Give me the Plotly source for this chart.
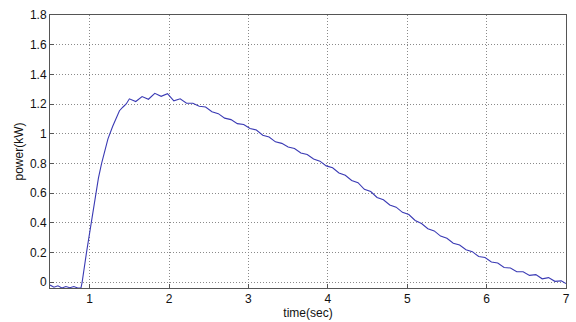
import plotly.graph_objects as go

time_sec = [0.50, 0.55, 0.60, 0.65, 0.70, 0.75, 0.80, 0.85, 0.89, 0.905, 0.96, 1.02, 1.075, 1.11, 1.15,
            1.19, 1.23, 1.29, 1.34, 1.375, 1.42, 1.46,
            1.50, 1.58, 1.66, 1.74, 1.82, 1.90, 1.98, 2.06, 2.14, 2.22, 2.30, 2.38, 2.46, 2.54,
            2.62, 2.70, 2.78, 2.86, 2.94, 3.02, 3.10, 3.18, 3.26, 3.34, 3.42, 3.50, 3.58, 3.66,
            3.74, 3.82, 3.90, 3.98, 4.06, 4.14, 4.22, 4.30, 4.38, 4.46, 4.54, 4.62, 4.70, 4.78,
            4.86, 4.94, 5.02, 5.10, 5.18, 5.26, 5.34, 5.42, 5.50, 5.58, 5.66, 5.74, 5.82, 5.90,
            5.98, 6.06, 6.14, 6.22, 6.30, 6.38, 6.46, 6.54, 6.62, 6.70, 6.78, 6.86, 6.94, 7.00]
power_kw = [-0.020, -0.035, -0.025, -0.040, -0.030, -0.038, -0.030, -0.040, -0.040, 0.000, 0.200, 0.400, 0.600, 0.700, 0.800,
            0.876, 0.965, 1.050, 1.120, 1.155, 1.180, 1.200,
            1.235, 1.217, 1.250, 1.232, 1.272, 1.252, 1.270, 1.222, 1.235, 1.205, 1.205, 1.185, 1.180, 1.148,
            1.135, 1.105, 1.095, 1.068, 1.062, 1.035, 1.025, 0.990, 0.978, 0.945, 0.935, 0.910, 0.900, 0.870,
            0.860, 0.830, 0.815, 0.783, 0.770, 0.735, 0.720, 0.685, 0.670, 0.625, 0.610, 0.570, 0.555, 0.520,
            0.505, 0.470, 0.455, 0.415, 0.395, 0.360, 0.345, 0.310, 0.295, 0.262, 0.250, 0.218, 0.205, 0.172,
            0.165, 0.135, 0.128, 0.098, 0.095, 0.070, 0.070, 0.045, 0.050, 0.022, 0.030, 0.005, 0.008, -0.010]

x_ticks = [1, 2, 3, 4, 5, 6, 7]
y_ticks = [0, 0.2, 0.4, 0.6, 0.8, 1, 1.2, 1.4, 1.6, 1.8]
y_tick_labels = ["0", "0.2", "0.4", "0.6", "0.8", "1", "1.2", "1.4", "1.6", "1.8"]

font_main = dict(family="Arial, Liberation Sans", size=12, color="#111111")

fig = go.Figure()
fig.add_trace(go.Scatter(x=time_sec, y=power_kw, mode="lines",
                         line=dict(color="#3a3ab4", width=1.1), showlegend=False))

axis_common = dict(showline=True, linecolor="#555555", linewidth=1, mirror=True,
                   showgrid=True, gridcolor="#8a8a8a", griddash="1px,2px", gridwidth=1,
                   ticks="inside", ticklen=4, tickcolor="#555555", zeroline=False,
                   tickfont=font_main)

fig.update_xaxes(range=[0.5, 7], tickvals=x_ticks, ticktext=[str(v) for v in x_ticks],
                 title=dict(text="time(sec)", standoff=1, font=font_main),
                 **axis_common)
fig.update_yaxes(range=[-0.04, 1.8], tickvals=y_ticks, ticktext=y_tick_labels,
                 title=dict(text="power(kW)", standoff=3, font=font_main),
                 **axis_common)

fig.update_layout(width=576, height=322, margin=dict(l=50, r=6, t=15, b=31),
                  plot_bgcolor="white", paper_bgcolor="white")

fig.write_html("out.html")
